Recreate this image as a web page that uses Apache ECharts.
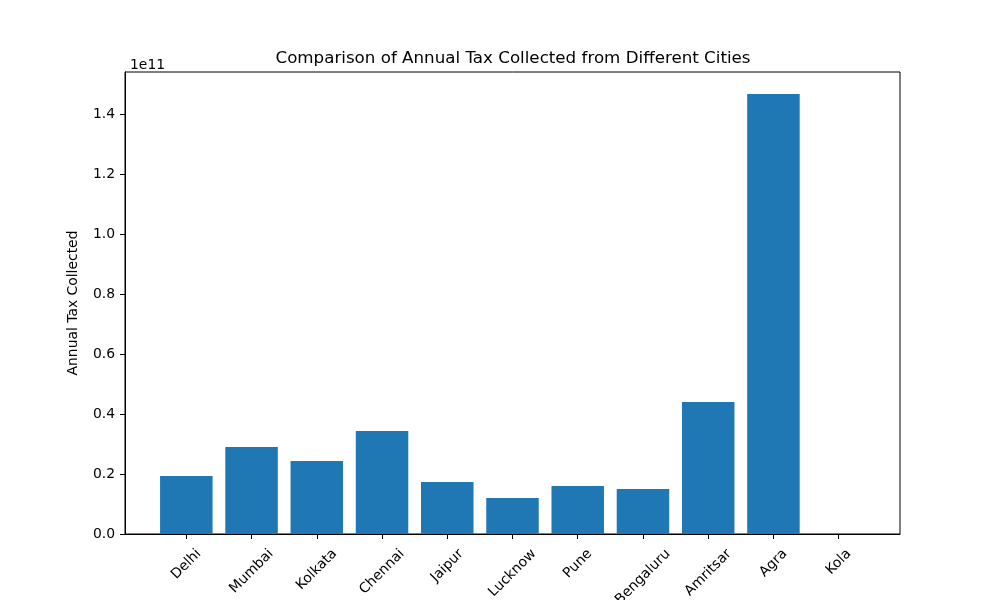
<!DOCTYPE html>
<html>
<head>
<meta charset="utf-8">
<script src="https://cdn.jsdelivr.net/npm/echarts@6/dist/echarts.min.js"></script>
<style>
	html, body { margin: 0; padding: 0; background: #fff; }
	#chart { width: 1000px; height: 600px; }
</style>
</head>
<body>
<div id="chart"></div>
<script>
var cities = ["Delhi", "Mumbai", "Kolkata", "Chennai", "Jaipur", "Lucknow", "Pune", "Bengaluru", "Amritsar", "Agra", "Kola"];
var taxCollected = [1.93e10, 2.9e10, 2.43e10, 3.43e10, 1.73e10, 1.2e10, 1.6e10, 1.5e10, 4.4e10, 1.467e11, 0];
var yTicks = [0, 0.2e11, 0.4e11, 0.6e11, 0.8e11, 1.0e11, 1.2e11, 1.4e11];

var font = "DejaVu Sans";
var fontSize = 13.9;
var positions = cities.map(function (c, i) { return i; });

// matplotlib centers the rotated label box under the tick; shift each label
// by padding so its center sits half the rotated box below the axis
var ctx = document.createElement("canvas").getContext("2d");
ctx.font = fontSize + "px '" + font + "'";
var richLabels = {};
cities.forEach(function (c, i) {
	var w = ctx.measureText(c).width;
	var h = fontSize * 1.15;
	var d = (w + h) / (2 * Math.SQRT2);
	var p = d * Math.SQRT2;
	richLabels["c" + i] = {
		fontFamily: font, fontSize: fontSize, color: "#000",
		padding: [p, p, 0, 0]
	};
});

var chart = echarts.init(document.getElementById("chart"));
chart.setOption({
	animation: false,
	textStyle: { fontFamily: font },
	title: [
		{
			text: "Comparison of Annual Tax Collected from Different Cities",
			left: 508, top: 45, textAlign: "center",
			textStyle: { fontFamily: font, fontSize: 16.7, fontWeight: "normal", color: "#000" }
		},
		{
			text: "1e11",
			left: 125, top: 53,
			textStyle: { fontFamily: font, fontSize: fontSize, fontWeight: "normal", color: "#000" }
		}
	],
	grid: {
		left: 125, right: 100, top: 72, bottom: 66,
		show: true, borderColor: "#000", borderWidth: 1,
		containLabel: false,
		outerBoundsMode: "none"
	},
	xAxis: {
		type: "value",
		min: -0.94, max: 10.94,
		splitLine: { show: false },
		axisLine: { show: true, onZero: false, lineStyle: { color: "#000" } },
		axisTick: { show: true, customValues: positions, length: 5, lineStyle: { color: "#000" } },
		axisLabel: {
			customValues: positions,
			rotate: 45, margin: 12,
			align: "center", verticalAlign: "middle",
			fontFamily: font, fontSize: fontSize, color: "#000",
			rich: richLabels,
			formatter: function (v) {
				var i = Math.round(v);
				return "{c" + i + "|" + cities[i] + "}";
			}
		}
	},
	yAxis: {
		type: "value",
		min: 0, max: 1.54e11,
		name: "Annual Tax Collected",
		nameLocation: "middle", nameRotate: 90, nameGap: 45,
		nameMoveOverlap: false,
		nameTextStyle: { fontFamily: font, fontSize: fontSize, color: "#000" },
		splitLine: { show: false },
		axisLine: { show: true, onZero: false, lineStyle: { color: "#000" } },
		axisTick: { show: true, customValues: yTicks, length: 5, lineStyle: { color: "#000" } },
		axisLabel: {
			customValues: yTicks,
			fontFamily: font, fontSize: fontSize, color: "#000", margin: 10,
			formatter: function (v) { return (v / 1e11).toFixed(1); }
		}
	},
	series: [{
		type: "bar",
		barWidth: 52.5,
		itemStyle: { color: "#1f77b4" },
		data: taxCollected.map(function (v, i) { return [positions[i], v]; })
	}]
});
</script>
</body>
</html>
